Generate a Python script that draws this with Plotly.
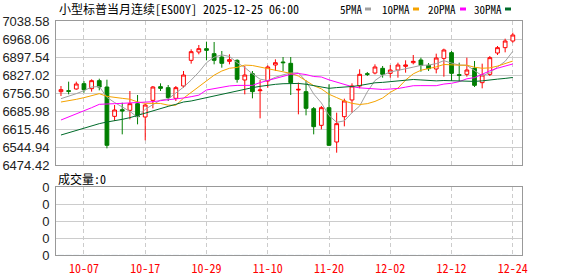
import plotly.graph_objects as go

W, H = 578, 276
L, R, T, B = 56, 522, 21, 255   # plot box in pixels

dates = ["10-02", "10-03", "10-06", "10-07", "10-08", "10-09", "10-10", "10-13", "10-14", "10-15",
         "10-16", "10-17", "10-20", "10-21", "10-22", "10-23", "10-24", "10-27", "10-28", "10-29",
         "10-30", "10-31", "11-03", "11-04", "11-05", "11-06", "11-07", "11-10", "11-11", "11-12",
         "11-13", "11-14", "11-17", "11-18", "11-19", "11-20", "11-21", "11-24", "11-25", "11-26",
         "11-27", "11-28", "12-01", "12-02", "12-03", "12-04", "12-05", "12-08", "12-09", "12-10",
         "12-11", "12-12", "12-15", "12-16", "12-17", "12-18", "12-19", "12-22", "12-23", "12-24"]

open_ = [6761.7, 6765.6, 6772.2, 6793.1, 6773.5, 6804.8, 6780.0, 6665.1, 6691.2, 6688.6,
         6714.7, 6662.5, 6727.8, 6781.3, 6777.4, 6735.6, 6783.9, 6884.5, 6917.1, 6930.2,
         6910.6, 6897.5, 6880.5, 6884.5, 6807.4, 6832.2, 6765.6, 6803.5, 6866.2, 6877.9,
         6872.7, 6768.2, 6761.7, 6695.1, 6629.8, 6699.0, 6564.5, 6663.8, 6729.1, 6783.9,
         6832.2, 6834.8, 6853.1, 6833.5, 6846.6, 6861.0, 6875.3, 6885.8, 6864.9, 6850.5,
         6892.3, 6914.5, 6828.3, 6829.6, 6853.1, 6797.0, 6829.6, 6913.2, 6934.1, 6960.2]
high = [6783.9, 6800.9, 6800.9, 6803.5, 6810.0, 6812.6, 6808.7, 6709.5, 6718.6, 6764.3,
        6748.7, 6714.7, 6783.9, 6794.4, 6787.8, 6783.9, 6842.7, 6927.6, 6944.5, 6957.6,
        6956.3, 6921.0, 6908.0, 6888.4, 6862.3, 6842.7, 6807.4, 6864.9, 6888.4, 6897.5,
        6897.5, 6797.0, 6806.1, 6701.6, 6705.5, 6790.5, 6679.4, 6734.3, 6794.4, 6849.2,
        6838.8, 6868.8, 6862.3, 6866.2, 6875.3, 6884.5, 6905.4, 6894.9, 6874.0, 6910.6,
        6930.2, 6921.0, 6875.3, 6894.9, 6881.9, 6871.4, 6901.5, 6940.6, 6969.3, 6992.9]
low = [6744.7, 6751.3, 6769.6, 6757.8, 6761.7, 6767.0, 6539.7, 6646.8, 6594.5, 6653.3,
       6633.7, 6571.1, 6696.4, 6764.3, 6725.2, 6725.2, 6777.4, 6871.4, 6908.0, 6884.5,
       6868.8, 6855.7, 6868.8, 6797.0, 6751.3, 6735.6, 6657.2, 6777.4, 6842.7, 6842.7,
       6748.7, 6672.9, 6669.0, 6594.5, 6614.1, 6548.8, 6522.7, 6625.9, 6679.4, 6774.8,
       6823.1, 6829.6, 6816.6, 6816.6, 6816.6, 6836.1, 6868.8, 6840.0, 6842.7, 6833.5,
       6820.5, 6803.5, 6803.5, 6820.5, 6780.0, 6774.8, 6823.1, 6905.4, 6915.8, 6953.7]
close = [6769.6, 6763.0, 6791.8, 6769.6, 6804.8, 6780.0, 6551.5, 6689.9, 6686.0, 6714.7,
         6663.8, 6709.5, 6780.0, 6774.8, 6738.2, 6777.4, 6827.0, 6918.4, 6930.2, 6923.7,
         6884.5, 6872.7, 6887.1, 6810.0, 6827.0, 6761.7, 6768.2, 6858.4, 6875.3, 6875.3,
         6797.0, 6770.8, 6696.4, 6624.6, 6699.0, 6551.5, 6636.4, 6725.2, 6783.9, 6829.6,
         6829.6, 6858.4, 6829.6, 6846.6, 6866.2, 6866.2, 6880.5, 6864.9, 6851.8, 6893.6,
         6925.0, 6833.5, 6825.7, 6846.6, 6786.5, 6827.0, 6894.9, 6934.1, 6960.2, 6983.7]
volume = [0] * 60

# moving-average values before a full window is available
ma5_head = [6734.3, 6743.4, 6753.9, 6765.6]
ma10_head = [6721.2, 6725.2, 6731.7, 6738.2, 6744.7, 6753.9, 6743.4, 6738.2, 6735.6]
ma20_head = [6650.7, 6662.5, 6673.0, 6686.0, 6699.0, 6712.1, 6714.7, 6714.7, 6716.0, 6717.3,
             6717.3, 6718.6, 6722.5, 6726.5, 6729.1, 6731.7, 6737.0, 6742.0, 6748.0]
ma30_head = [6591.9, 6601.1, 6611.5, 6620.6, 6627.2, 6636.4, 6642.9, 6646.8, 6653.3, 6659.9,
             6669.0, 6679.4, 6688.6, 6696.4, 6704.2, 6712.1, 6721.2, 6725.2, 6731.7, 6738.2,
             6744.7, 6752.6, 6760.4, 6767.0, 6772.2, 6777.4, 6782.6, 6787.8, 6790.5]

y_ticks = [6474.42, 6544.94, 6615.46, 6685.98, 6756.50, 6827.02, 6897.54, 6968.06, 7038.58]
x_tick_labels = ["10-07", "10-17", "10-29", "11-10", "11-20", "12-02", "12-12", "12-24"]

title_text = "小型标普当月连续[ES00Y] 2025-12-25 06:00"
vol_text = "成交量:0"
ma_names = ["5PMA", "10PMA", "20PMA", "30PMA"]
ma_colors = ["#a0a0a0", "#f5a300", "#ff00ff", "#006b2a"]


def ma(n, head):
    out = list(head)
    for i in range(n - 1, len(close)):
        out.append(sum(close[i - n + 1:i + 1]) / n)
    return out


ma_series = [ma(5, ma5_head), ma(10, ma10_head), ma(20, ma20_head), ma(30, ma30_head)]


def px_x(px):
    return (px - L) / (R - L)


def px_y(py):
    return (B - py) / (B - T)


fig = go.Figure()

fig.add_trace(go.Candlestick(
    x=dates, open=open_, high=high, low=low, close=close,
    increasing=dict(line=dict(color="#ff0000", width=1), fillcolor="#ffffff"),
    decreasing=dict(line=dict(color="#007f00", width=1), fillcolor="#007f00"),
    whiskerwidth=0, showlegend=False, xaxis="x", yaxis="y"))

for name, col, vals in zip(ma_names, ma_colors, ma_series):
    fig.add_trace(go.Scatter(x=dates, y=vals, mode="lines", name=name,
                             line=dict(color=col, width=1), showlegend=False,
                             xaxis="x", yaxis="y"))

fig.add_trace(go.Bar(x=dates, y=volume, marker_color="#007f00", showlegend=False,
                     xaxis="x2", yaxis="y2"))

main_bottom = px_y(165)
vol_top = px_y(187)

axis_common = dict(showline=True, mirror=True, linecolor="#999999", linewidth=1,
                   zeroline=False, ticks="", automargin=False)

fig.update_layout(
    width=W, height=H,
    margin=dict(l=L, r=W - R, t=T, b=H - B, pad=0, autoexpand=False),
    paper_bgcolor="white", plot_bgcolor="white",
    showlegend=False, boxgap=0.3,
    xaxis=dict(type="category", categoryorder="array", categoryarray=dates,
               range=[-0.65, 60.2], tickmode="array", tickvals=x_tick_labels,
               showticklabels=False, showgrid=True, gridcolor="#cccccc",
               griddash="4px,3px", gridwidth=1, rangeslider=dict(visible=False),
               anchor="y", **axis_common),
    yaxis=dict(domain=[main_bottom, 1], range=[y_ticks[0], y_ticks[-1]],
               tickmode="array", tickvals=y_ticks, ticktext=["%.2f" % v for v in y_ticks],
               showgrid=True, gridcolor="#cccccc", gridwidth=1,
               tickfont=dict(family="Liberation Sans, Arial", size=13, color="#222222"),
               ticklabelstandoff=3, anchor="x", **axis_common),
    xaxis2=dict(type="category", categoryorder="array", categoryarray=dates,
                range=[-0.65, 60.2], tickmode="array", tickvals=x_tick_labels,
                ticktext=x_tick_labels, showgrid=True, gridcolor="#cccccc",
                griddash="4px,3px", gridwidth=1, anchor="y2",
                tickfont=dict(family="Noto Sans Mono CJK SC, Liberation Mono, monospace",
                              size=12, color="#ff0000"),
                ticklabelstandoff=3, **axis_common),
    yaxis2=dict(domain=[0, vol_top], range=[0, 4], tickmode="array",
                tickvals=[0, 1, 2, 3, 4], ticktext=["0"] * 5, showgrid=True,
                gridcolor="#cccccc", gridwidth=1, anchor="x2",
                tickfont=dict(family="Liberation Sans, Arial", size=13, color="#222222"),
                ticklabelstandoff=3, **axis_common),
)

cjk = "Noto Sans Mono CJK SC, Noto Sans CJK SC, sans-serif"
annotations = [
    dict(text=title_text, x=px_x(57), y=px_y(9), xref="paper", yref="paper",
         xanchor="left", yanchor="middle", showarrow=False,
         font=dict(family=cjk, size=12, color="#000000")),
    dict(text=vol_text, x=px_x(56), y=px_y(178), xref="paper", yref="paper",
         xanchor="left", yanchor="middle", showarrow=False,
         font=dict(family=cjk, size=12, color="#000000")),
]
shapes = []
legend_text_x = [338, 380, 426, 472]
legend_swatch_x = [365, 413, 460, 505]
for name, col, tx, sx in zip(ma_names, ma_colors, legend_text_x, legend_swatch_x):
    annotations.append(dict(text=name, x=px_x(tx), y=px_y(9), xref="paper", yref="paper",
                            xanchor="left", yanchor="middle", showarrow=False,
                            font=dict(family=cjk, size=11, color="#000000")))
    shapes.append(dict(type="rect", xref="paper", yref="paper",
                       x0=px_x(sx), x1=px_x(sx + 6), y0=px_y(10.5), y1=px_y(7.5),
                       fillcolor=col, line=dict(width=0)))

fig.update_layout(annotations=annotations, shapes=shapes)

fig.write_html("out.html")
